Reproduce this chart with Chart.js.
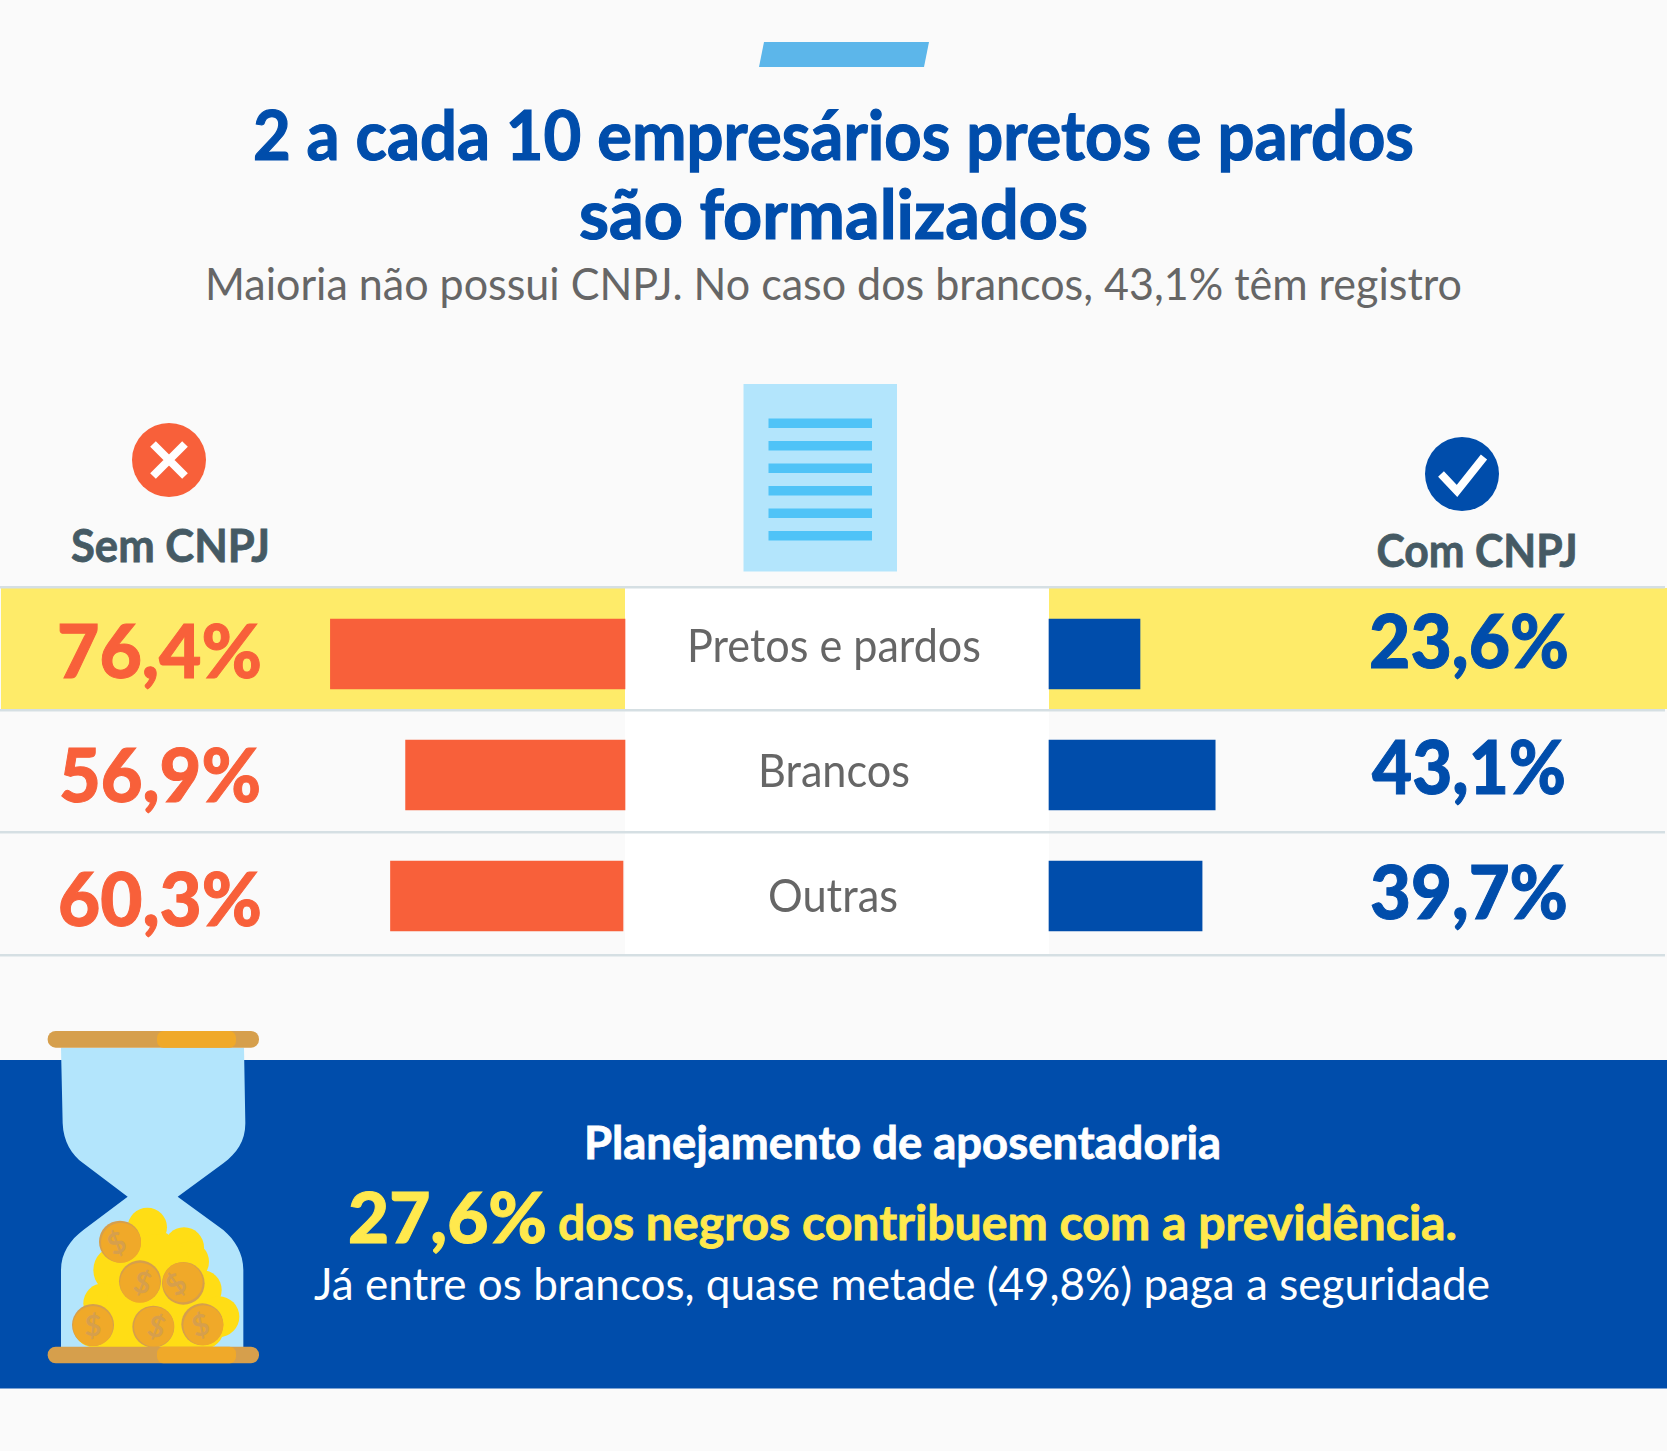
<!DOCTYPE html>
<html lang="pt-BR">
<head>
<meta charset="utf-8">
<title>2 a cada 10 empresários pretos e pardos são formalizados</title>
<script src="https://cdn.jsdelivr.net/npm/chart.js@4"></script>
<style>
  html, body { margin: 0; padding: 0; background: #fafafa; overflow: hidden; }
  #page { position: relative; width: 1667px; height: 1451px; }
  #page svg, #page canvas { position: absolute; left: 0; top: 0; }
  text { font-family: Lato, sans-serif; }
</style>
</head>
<body>
<div id="page">
<svg width="1667" height="1451" viewBox="0 0 1667 1451" xmlns="http://www.w3.org/2000/svg">
  <!-- top tab -->
  <polygon points="764,42 929,42 924,67 759,67" fill="#5cb6ea"/>

  <!-- header text -->
  <text x="253" y="160" font-size="68" font-weight="700" fill="#004dab" stroke="#004dab" stroke-width="1.2" textLength="1161" lengthAdjust="spacingAndGlyphs">2 a cada 10 empresários pretos e pardos</text>
  <text x="579" y="239" font-size="68" font-weight="700" fill="#004dab" stroke="#004dab" stroke-width="1.2" textLength="509" lengthAdjust="spacingAndGlyphs">são formalizados</text>
  <text x="205" y="300" font-size="45" fill="#666666" textLength="1257" lengthAdjust="spacingAndGlyphs">Maioria não possui CNPJ. No caso dos brancos, 43,1% têm registro</text>

  <!-- document icon -->
  <rect x="743.5" y="384" width="153.5" height="187.5" fill="#b3e5fc"/>
  <g fill="#4fc3f7">
    <rect x="768.5" y="418.5" width="103.5" height="9.5"/>
    <rect x="768.5" y="441" width="103.5" height="9.5"/>
    <rect x="768.5" y="463.5" width="103.5" height="9.5"/>
    <rect x="768.5" y="486" width="103.5" height="9.5"/>
    <rect x="768.5" y="508.5" width="103.5" height="9.5"/>
    <rect x="768.5" y="531" width="103.5" height="9.5"/>
  </g>

  <!-- column heads -->
  <circle cx="169" cy="460" r="37" fill="#f8603a"/>
  <path d="M153 444 L185 476 M185 444 L153 476" stroke="#ffffff" stroke-width="8" fill="none"/>
  <text x="71" y="562" font-size="46" font-weight="700" fill="#455a64" stroke="#455a64" stroke-width="0.8" textLength="199" lengthAdjust="spacingAndGlyphs">Sem CNPJ</text>
  <circle cx="1462" cy="474" r="37" fill="#004dab"/>
  <path d="M1441 474 L1457 491 L1484 457" stroke="#ffffff" stroke-width="8" fill="none"/>
  <text x="1376.5" y="567" font-size="46" font-weight="700" fill="#455a64" stroke="#455a64" stroke-width="0.8" textLength="201" lengthAdjust="spacingAndGlyphs">Com CNPJ</text>

  <!-- row backgrounds -->
  <rect x="1" y="588" width="624" height="121" fill="#feeb69"/>
  <rect x="1049" y="588" width="618" height="121" fill="#feeb69"/>
  <rect x="625" y="588" width="424" height="367" fill="#ffffff"/>
  <g fill="#d5dfe3">
    <rect x="0" y="586" width="1665" height="2.5"/>
    <rect x="0" y="709" width="1665" height="2.5"/>
    <rect x="0" y="831" width="1665" height="2.5"/>
    <rect x="0" y="954" width="1665" height="2.5"/>
  </g>

  <!-- banner -->
  <rect x="0" y="1060" width="1667" height="328.5" fill="#004dab"/>
  <text x="584" y="1159" font-size="46" font-weight="700" fill="#ffffff" stroke="#ffffff" stroke-width="0.8" textLength="637" lengthAdjust="spacingAndGlyphs">Planejamento de aposentadoria</text>
  <text x="348" y="1243" font-size="70" font-weight="900" fill="#ffe94d" stroke="#ffe94d" stroke-width="1" textLength="199" lengthAdjust="spacingAndGlyphs">27,6%</text>
  <text x="558" y="1240" font-size="47" font-weight="700" fill="#ffe94d" stroke="#ffe94d" stroke-width="0.8" textLength="899" lengthAdjust="spacingAndGlyphs">dos negros contribuem com a previdência.</text>
  <text x="314" y="1300" font-size="45" fill="#ffffff" textLength="1176" lengthAdjust="spacingAndGlyphs">Já entre os brancos, quase metade (49,8%) paga a seguridade</text>

  <!-- hourglass -->
  <svg x="20" y="1010" width="280" height="380" viewBox="0 0 840 1140">
    <path fill="#b3e5fc" d="M123 113 L128 340 C130 395 155 435 190 460 L323 560 L190 660 C150 690 123 730 123 780 L123 1020 L670 1020 L670 780 C670 730 645 690 610 660 L473 560 L610 460 C650 430 676 395 676 340 L672 113 Z"/>
    <g fill="#ffdd15">
      <circle cx="382" cy="652" r="59"/><circle cx="492" cy="712" r="60"/><circle cx="507" cy="755" r="60"/>
      <circle cx="292" cy="780" r="72"/><circle cx="545" cy="840" r="60"/><circle cx="250" cy="880" r="60"/>
      <circle cx="597" cy="920" r="61"/><circle cx="400" cy="880" r="140"/><circle cx="222" cy="950" r="62"/>
      <circle cx="550" cy="955" r="62"/><rect x="230" y="900" width="320" height="115"/>
      <polygon points="340,680 440,670 500,720 520,800 300,800"/>
    </g>
    <g fill="#d69f4c">
      <circle cx="300" cy="695" r="63"/><circle cx="360" cy="814" r="63"/><circle cx="490" cy="820" r="64"/>
      <circle cx="219" cy="945" r="63"/><circle cx="400" cy="950" r="63"/><circle cx="547" cy="943" r="63"/>
    </g>
    <g fill="#f0a929">
      <circle cx="303" cy="698" r="60"/><circle cx="360" cy="818" r="60"/><circle cx="488" cy="817" r="60"/>
      <circle cx="219" cy="948" r="60"/><circle cx="402" cy="950" r="60"/><circle cx="550" cy="946" r="60"/>
    </g>
    <g fill="#d69f4c" font-size="88" font-weight="700" text-anchor="middle">
      <text transform="translate(303 728) rotate(-25)">$</text>
      <text transform="translate(360 848) rotate(15)">$</text>
      <text transform="translate(488 847) rotate(-40)">$</text>
      <text transform="translate(219 978)">$</text>
      <text transform="translate(402 980) rotate(15)">$</text>
      <text transform="translate(550 976) rotate(-15)">$</text>
    </g>
    <rect x="83" y="63" width="634" height="50" rx="24" fill="#d69f4c"/>
    <rect x="411" y="63" width="237" height="50" rx="20" fill="#f0a929"/>
    <rect x="83" y="1010" width="634" height="50" rx="24" fill="#d69f4c"/>
    <rect x="411" y="1010" width="237" height="50" rx="20" fill="#f0a929"/>
  </svg>
</svg>
<canvas id="chart" width="1667" height="1451"></canvas>
</div>

<script>
// =============================
// DATA
// =============================
const categories = ["Pretos e pardos", "Brancos", "Outras"];
const semCnpj = [76.4, 56.9, 60.3];
const comCnpj = [23.6, 43.1, 39.7];

// =============================
// LAYOUT
// =============================
const WIDTH = 1667;
const PX_PER_POINT = 3.856;
const LEFT_ZERO = 625;
const RIGHT_ZERO = 1049;

const ORANGE = "#f8603a";
const BLUE = "#004dab";

// text spots per row
const categoryCenter = [834, 834, 833];
const categoryBaseline = [662, 787, 912];
const categoryWidth = [294, 152, 130];
const semLabel = { left: [57, 59, 58], base: [678, 802, 926], width: [205, 202, 204] };
const comLabel = { left: [1369, 1372, 1370], base: [668, 794, 919], width: [200, 194, 198] };

function percentText(v) {
    return v.toFixed(1).replace(".", ",") + "%";
}

// =============================
// PLUGINS
// =============================
// the last left bar sits 2px off the others in the original
const nudgeBar = {
    id: "nudgeBar",
    beforeDatasetsDraw(chart) {
        const bar = chart.getDatasetMeta(0).data[2];
        bar.x -= 2;
        bar.base -= 2;
    }
};

const rowLabels = {
    id: "rowLabels",
    afterDatasetsDraw(chart) {
        const ctx = chart.ctx;
        ctx.save();
        ctx.textBaseline = "alphabetic";

        categories.forEach((name, i) => {
            ctx.font = "400 47px Lato";
            ctx.fillStyle = "#666666";
            ctx.textAlign = "center";
            ctx.fillText(name, categoryCenter[i], categoryBaseline[i], categoryWidth[i]);

            ctx.font = "900 74px Lato";
            ctx.textAlign = "left";
            ctx.lineWidth = 1;
            ctx.fillStyle = ctx.strokeStyle = ORANGE;
            ctx.fillText(percentText(semCnpj[i]), semLabel.left[i], semLabel.base[i], semLabel.width[i]);
            ctx.strokeText(percentText(semCnpj[i]), semLabel.left[i], semLabel.base[i], semLabel.width[i]);
            ctx.fillStyle = ctx.strokeStyle = BLUE;
            ctx.fillText(percentText(comCnpj[i]), comLabel.left[i], comLabel.base[i], comLabel.width[i]);
            ctx.strokeText(percentText(comCnpj[i]), comLabel.left[i], comLabel.base[i], comLabel.width[i]);
        });
        ctx.restore();
    }
};

// =============================
// CHART
// =============================
const span = WIDTH / PX_PER_POINT;

new Chart(document.getElementById("chart"), {
    type: "bar",
    data: {
        labels: categories,
        datasets: [
            { label: "Sem CNPJ", data: semCnpj, xAxisID: "xl", backgroundColor: ORANGE, grouped: false, barThickness: 70 },
            { label: "Com CNPJ", data: comCnpj, xAxisID: "xr", backgroundColor: BLUE, grouped: false, barThickness: 70 }
        ]
    },
    options: {
        indexAxis: "y",
        responsive: false,
        animation: false,
        devicePixelRatio: 1,
        layout: { padding: { top: 593.5, bottom: 494.5, left: 0, right: 0 } },
        plugins: { legend: { display: false }, tooltip: { enabled: false } },
        scales: {
            y: { display: false },
            xl: {
                display: false,
                reverse: true,
                min: LEFT_ZERO / PX_PER_POINT - span,
                max: LEFT_ZERO / PX_PER_POINT
            },
            xr: {
                display: false,
                min: -RIGHT_ZERO / PX_PER_POINT,
                max: span - RIGHT_ZERO / PX_PER_POINT
            }
        }
    },
    plugins: [nudgeBar, rowLabels]
});
</script>
</body>
</html>
